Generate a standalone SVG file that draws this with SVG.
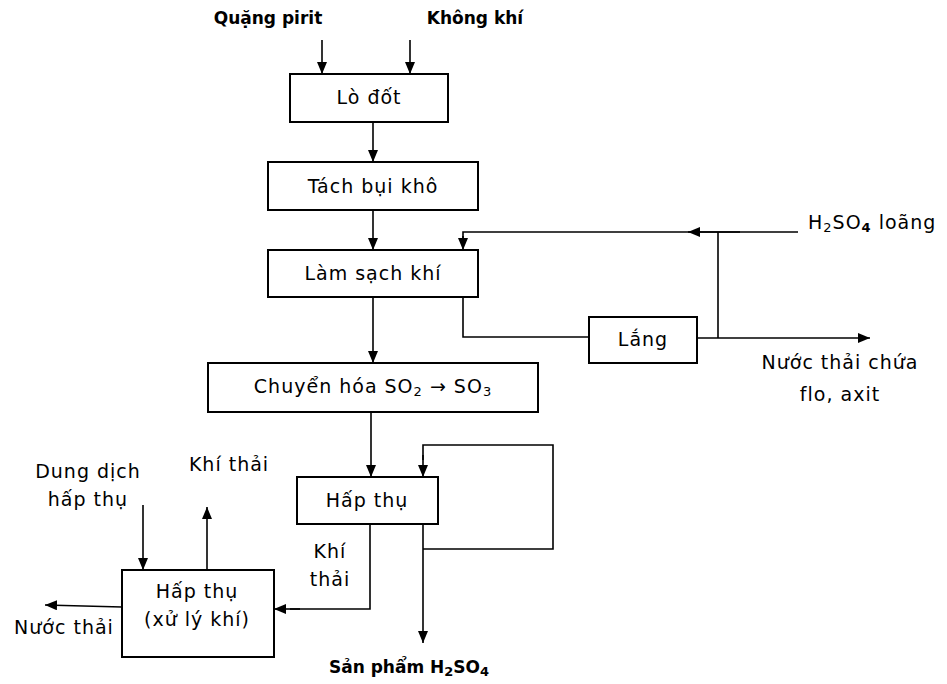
<svg xmlns="http://www.w3.org/2000/svg" width="947" height="684" viewBox="0 0 947 684">
  <defs>
    <marker id="arr" viewBox="0 0 12 10" refX="12" refY="5" markerWidth="12" markerHeight="10" markerUnits="userSpaceOnUse" orient="auto">
      <path d="M0,0 L12,5 L0,10 Z" fill="#000"/>
    </marker>
    <style>
      .box { fill: #fff; stroke: #000; stroke-width: 2; }
      .ln { fill: none; stroke: #000; stroke-width: 1.6; }
      .ar { fill: none; stroke: #000; stroke-width: 1.6; marker-end: url(#arr); }
      text { font-family: "DejaVu Sans", "Liberation Sans", sans-serif; font-size: 19px; letter-spacing: 1px; fill: #000; }
      .c { text-anchor: middle; }
      .b { font-weight: bold; font-size: 17px; letter-spacing: 0; }
      .s { font-size: 13px; }
    </style>
  </defs>
  <rect width="947" height="684" fill="#fff"/>

  <!-- connectors -->
  <g id="connectors">
    <line class="ar" x1="322" y1="40" x2="322" y2="74"/>
    <line class="ar" x1="410" y1="40" x2="410" y2="74"/>
    <line class="ar" x1="373" y1="122" x2="373" y2="162"/>
    <line class="ar" x1="373" y1="210" x2="373" y2="250"/>
    <!-- dilute acid feed back into gas cleaning -->
    <polyline class="ln" points="798,232 463,232 463,238"/>
    <line class="ar" x1="463" y1="236" x2="463" y2="250"/>
    <line class="ar" x1="740" y1="232" x2="688" y2="232"/>
    <line class="ln" x1="718" y1="232" x2="718" y2="338"/>
    <!-- cleaning outlet to settler -->
    <polyline class="ln" points="463,297 463,337 589,337"/>
    <line class="ar" x1="697" y1="338" x2="870" y2="338"/>
    <line class="ar" x1="373" y1="297" x2="373" y2="363"/>
    <line class="ar" x1="371" y1="412" x2="371" y2="477"/>
    <!-- recycle loop on the absorber -->
    <polyline class="ln" points="423,549 553,549 553,445 423,445 423,460"/>
    <line class="ar" x1="423" y1="455" x2="423" y2="477"/>
    <line class="ar" x1="423" y1="524" x2="423" y2="643"/>
    <!-- off-gas to scrubber -->
    <polyline class="ln" points="370,524 370,609 290,609"/>
    <line class="ar" x1="300" y1="609" x2="274" y2="609"/>
    <line class="ar" x1="143" y1="505" x2="143" y2="570"/>
    <line class="ar" x1="207" y1="570" x2="207" y2="507"/>
    <line class="ar" x1="122" y1="607" x2="45" y2="605"/>
  </g>

  <g id="lo-dot">
    <rect class="box" x="290" y="74" width="158" height="48"/>
    <text class="c" x="369" y="104">Lò đốt</text>
  </g>
  <g id="tach-bui">
    <rect class="box" x="268" y="162" width="210" height="48"/>
    <text class="c" x="373" y="193">Tách bụi khô</text>
  </g>
  <g id="lam-sach">
    <rect class="box" x="268" y="250" width="210" height="47"/>
    <text class="c" x="373" y="280">Làm sạch khí</text>
  </g>
  <g id="lang">
    <rect class="box" x="589" y="317" width="108" height="46"/>
    <text class="c" x="643" y="346">Lắng</text>
  </g>
  <g id="chuyen-hoa">
    <rect class="box" x="208" y="363" width="330" height="49"/>
    <text class="c" x="373" y="393">Chuyển hóa SO<tspan class="s" dy="3">2</tspan><tspan dy="-3"> → SO</tspan><tspan class="s" dy="3">3</tspan></text>
  </g>
  <g id="hap-thu">
    <rect class="box" x="297" y="477" width="141" height="47"/>
    <text class="c" x="367" y="507">Hấp thụ</text>
  </g>
  <g id="hap-thu-xu-ly">
    <rect class="box" x="122" y="570" width="152" height="87"/>
    <text class="c" x="197" y="598">Hấp thụ</text>
    <text class="c" x="197" y="626">(xử lý khí)</text>
  </g>

  <g id="labels">
    <text class="b c" x="268" y="24">Quặng pirit</text>
    <text class="b c" x="475" y="24">Không khí</text>
    <text x="808" y="229" letter-spacing="0.5">H<tspan class="s" dy="3">2</tspan><tspan dy="-3">SO</tspan><tspan class="s" font-weight="bold" dy="3">4</tspan><tspan dy="-3"> loãng</tspan></text>
    <text class="c" x="840" y="369">Nước thải chứa</text>
    <text class="c" x="840" y="401">flo, axit</text>
    <text class="c" x="88" y="478">Dung dịch</text>
    <text class="c" x="88" y="506">hấp thụ</text>
    <text class="c" x="229" y="471">Khí thải</text>
    <text class="c" x="330" y="558">Khí</text>
    <text class="c" x="330" y="586">thải</text>
    <text class="c" x="64" y="634">Nước thải</text>
    <text class="b c" x="409" y="673">Sản phẩm H<tspan class="s" dy="3">2</tspan><tspan dy="-3">SO</tspan><tspan class="s" dy="3">4</tspan></text>
  </g>
</svg>
